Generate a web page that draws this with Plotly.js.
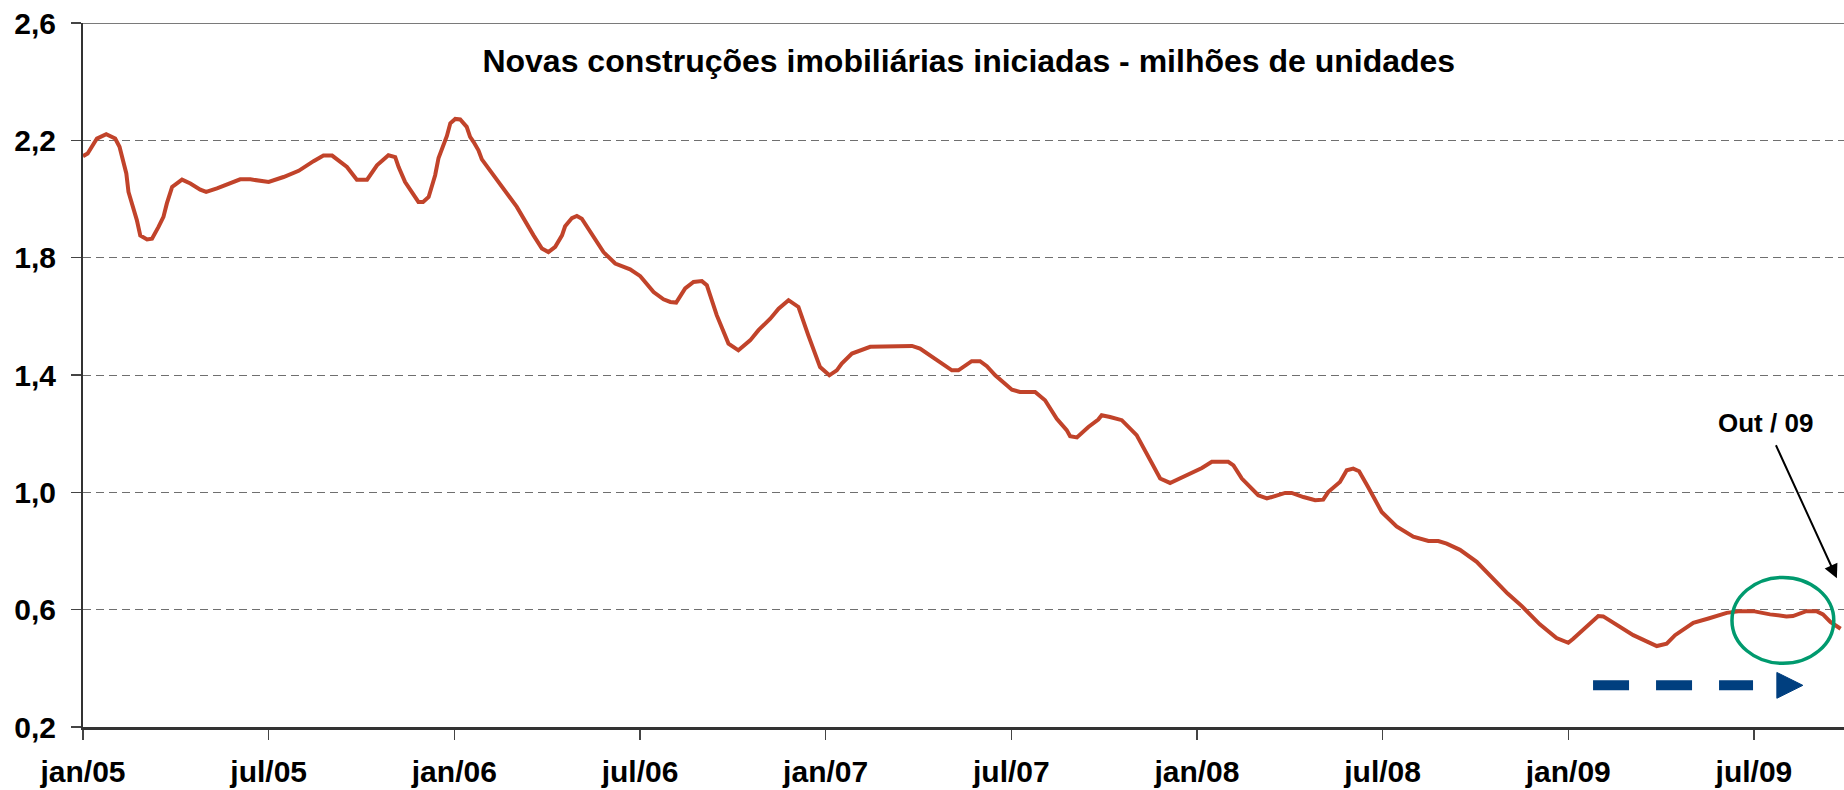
<!DOCTYPE html>
<html>
<head>
<meta charset="utf-8">
<script src="https://cdn.plot.ly/plotly-3.0.1.min.js"></script>
<style>
  html, body { margin: 0; padding: 0; background: #ffffff; }
  #chart { width: 1844px; height: 790px; }
</style>
</head>
<body>
<div id="chart"></div>
<script>
// Months elapsed since jan/2005
const monthsSinceJan05 = [
  0.00, 0.15, 0.45, 0.75, 1.04, 1.18, 1.40, 1.47, 1.74, 1.85, 2.07, 2.23, 2.44, 2.60, 2.71, 2.88,
  3.20, 3.47, 3.79, 3.98, 4.33, 4.87, 5.08, 5.41, 5.84, 6.00, 6.48, 6.97, 7.45, 7.77, 8.05, 8.53,
  8.85, 9.18, 9.50, 9.87, 10.09, 10.20, 10.41, 10.68, 10.84, 10.99, 11.17, 11.38, 11.49, 11.76, 11.87,
  12.03, 12.19, 12.40, 12.51, 12.62, 12.78, 12.89, 13.38, 14.02, 14.56, 14.83, 15.04, 15.26, 15.48,
  15.58, 15.80, 15.96, 16.12, 16.50, 16.82, 17.20, 17.68, 18.01, 18.44, 18.76, 18.98, 19.17, 19.46,
  19.73, 20.00, 20.16, 20.32, 20.48, 20.86, 21.18, 21.56, 21.83, 22.21, 22.48, 22.80, 23.12, 23.44,
  23.82, 24.12, 24.36, 24.52, 24.85, 25.44, 26.79, 27.05, 27.59, 28.08, 28.29, 28.72, 28.99, 29.21,
  29.48, 29.74, 30.02, 30.28, 30.77, 31.09, 31.47, 31.79, 31.90, 32.12, 32.49, 32.81, 32.92, 33.19,
  33.57, 34.05, 34.54, 34.81, 35.13, 35.35, 35.88, 36.16, 36.48, 37.01, 37.18, 37.45, 37.98, 38.26,
  38.85, 39.06, 39.44, 39.82, 40.08, 40.24, 40.62, 40.84, 41.05, 41.24, 41.53, 41.97, 42.45, 42.99,
  43.48, 43.80, 44.07, 44.50, 45.04, 45.58, 46.04, 46.49, 47.08, 47.62, 48.00, 48.16, 48.59, 48.97,
  49.13, 49.56, 50.10, 50.86, 51.18, 51.45, 52.04, 52.53, 53.12, 53.55, 53.98, 54.52, 55.05, 55.26,
  55.69, 56.02, 56.23, 56.47, 56.80
];
// Housing starts, millions of units
const housingStarts = [
  2.146, 2.155, 2.206, 2.221, 2.206, 2.178, 2.087, 2.024, 1.928, 1.876, 1.862, 1.865, 1.905, 1.939, 1.985, 2.041,
  2.066, 2.053, 2.032, 2.024, 2.036, 2.060, 2.067, 2.067, 2.058, 2.058, 2.075, 2.096, 2.129, 2.148, 2.148, 2.109,
  2.066, 2.066, 2.115, 2.149, 2.143, 2.109, 2.058, 2.015, 1.990, 1.990, 2.007, 2.081, 2.140, 2.215, 2.258,
  2.273, 2.271, 2.246, 2.212, 2.195, 2.166, 2.135, 2.064, 1.973, 1.876, 1.831, 1.819, 1.837, 1.876,
  1.907, 1.935, 1.942, 1.933, 1.871, 1.819, 1.780, 1.760, 1.737, 1.683, 1.658, 1.649, 1.647, 1.695,
  1.717, 1.720, 1.706, 1.655, 1.604, 1.507, 1.484, 1.518, 1.553, 1.592, 1.626, 1.655, 1.632, 1.535,
  1.427, 1.399, 1.416, 1.439, 1.473, 1.496, 1.499, 1.490, 1.450, 1.416, 1.416, 1.447, 1.447, 1.430,
  1.399, 1.376, 1.350, 1.342, 1.342, 1.314, 1.251, 1.212, 1.191, 1.187, 1.223, 1.248, 1.263, 1.257,
  1.246, 1.195, 1.104, 1.047, 1.032, 1.043, 1.069, 1.083, 1.104, 1.104, 1.092, 1.047, 0.990, 0.979,
  0.998, 0.998, 0.984, 0.973, 0.975, 1.001, 1.035, 1.075, 1.081, 1.072, 1.018, 0.933, 0.884, 0.849,
  0.834, 0.834, 0.825, 0.804, 0.763, 0.706, 0.655, 0.613, 0.550, 0.503, 0.487, 0.501, 0.541, 0.578,
  0.577, 0.550, 0.513, 0.476, 0.484, 0.513, 0.555, 0.570, 0.589, 0.595, 0.595, 0.584, 0.577, 0.578,
  0.595, 0.595, 0.584, 0.558, 0.535
];
const xTickMonths = [0, 6, 12, 18, 24, 30, 36, 42, 48, 54];
const xTickLabels = ['jan/05', 'jul/05', 'jan/06', 'jul/06', 'jan/07', 'jul/07', 'jan/08', 'jul/08', 'jan/09', 'jul/09'];
const yTickValues = [0.2, 0.6, 1.0, 1.4, 1.8, 2.2, 2.6];
const yTickLabels = ['0,2', '0,6', '1,0', '1,4', '1,8', '2,2', '2,6'];
const chartTitle = 'Novas construções imobiliárias iniciadas - milhões de unidades';
const calloutText = 'Out / 09';

const FONT = '"Liberation Sans", Arial, Helvetica, sans-serif';

const trace = {
  type: 'scatter',
  mode: 'lines',
  x: monthsSinceJan05,
  y: housingStarts,
  line: { color: '#C1432A', width: 4 },
  hoverinfo: 'skip'
};

const layout = {
  width: 1844,
  height: 790,
  margin: { l: 83, r: 0, t: 23, b: 63, pad: 0 },
  paper_bgcolor: '#ffffff',
  plot_bgcolor: '#ffffff',
  showlegend: false,
  font: { family: FONT, color: '#000000' },
  title: {
    text: chartTitle,
    font: { family: FONT, size: 32, weight: 'bold', color: '#000000' },
    x: 0.503, xref: 'paper', xanchor: 'center',
    y: 1 - 61 / 790, yref: 'container', yanchor: 'middle'
  },
  xaxis: {
    range: [0, 56.91],
    tickmode: 'array',
    tickvals: xTickMonths,
    ticktext: xTickLabels,
    showgrid: false,
    zeroline: false,
    showline: true,
    linecolor: '#333333',
    linewidth: 2.5,
    ticks: 'outside',
    ticklen: 10,
    tickwidth: 1.5,
    tickcolor: '#444444',
    ticklabelstandoff: 6,
    tickfont: { family: FONT, size: 30, weight: 'bold', color: '#000000' }
  },
  yaxis: {
    range: [0.2, 2.6],
    tickmode: 'array',
    tickvals: yTickValues,
    ticktext: yTickLabels,
    showgrid: true,
    gridcolor: '#6f6f6f',
    gridwidth: 1,
    griddash: '8px,5px',
    zeroline: false,
    showline: true,
    linecolor: '#333333',
    linewidth: 2,
    ticks: 'outside',
    ticklen: 10,
    tickwidth: 1.5,
    tickcolor: '#444444',
    ticklabelstandoff: 9,
    tickfont: { family: FONT, size: 30, weight: 'bold', color: '#000000' }
  },
  shapes: [
    // solid top border at 2,6
    { type: 'line', xref: 'paper', yref: 'y', x0: 0, x1: 1, y0: 2.6, y1: 2.6,
      line: { color: '#7a7a7a', width: 2 } },
    // green ellipse around the latest readings
    { type: 'circle', xref: 'x', yref: 'y', x0: 53.29, x1: 56.58, y0: 0.417, y1: 0.710,
      line: { color: '#009A6E', width: 3.5 } },
    // blue dashed arrow body
    { type: 'line', xref: 'x', yref: 'y', x0: 48.80, x1: 53.97, y0: 0.342, y1: 0.342,
      line: { color: '#003F7F', width: 10, dash: '36px,27px' } },
    // blue arrow head
    { type: 'path', xref: 'x', yref: 'y',
      path: 'M 54.74 0.386 L 55.58 0.342 L 54.74 0.298 Z',
      fillcolor: '#003F7F', line: { color: '#003F7F', width: 1 } }
  ],
  annotations: [
    {
      x: 56.68, y: 0.707, xref: 'x', yref: 'y',
      ax: -71, ay: -155, axref: 'pixel', ayref: 'pixel',
      text: calloutText,
      showarrow: true,
      arrowhead: 2,
      arrowsize: 1.4,
      arrowwidth: 2,
      arrowcolor: '#000000',
      startstandoff: 6,
      font: { family: FONT, size: 26, weight: 'bold', color: '#000000' }
    }
  ]
};

Plotly.newPlot('chart', [trace], layout, { staticPlot: true, displayModeBar: false });
</script>
</body>
</html>
